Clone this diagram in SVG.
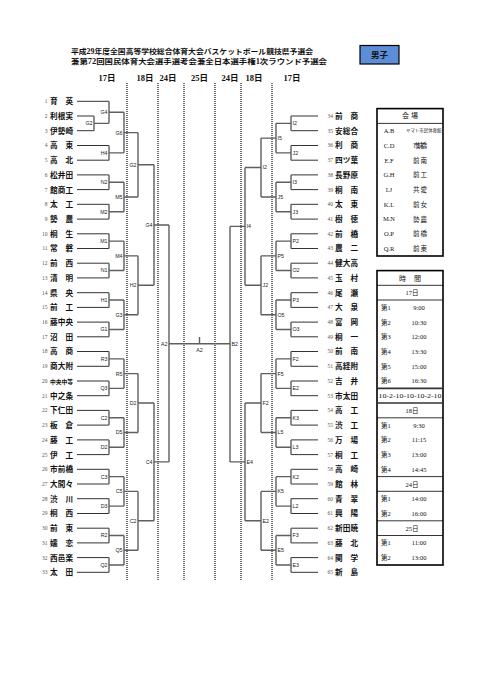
<svg xmlns="http://www.w3.org/2000/svg" width="481" height="680" viewBox="0 0 481 680">
<style>
.nm{font-family:"Noto Sans CJK JP",sans-serif;font-size:7.6px;font-weight:700;fill:#111}
.no{font-family:"Liberation Serif",serif;font-size:5.5px;fill:#555;text-anchor:end}
.lb{font-family:"Liberation Sans",sans-serif;font-size:5.3px;fill:#222}
.le{text-anchor:end}
.tl{stroke:#333;stroke-width:1;fill:none}
.br{stroke:#5e5e5e;stroke-width:1.4;fill:none}
.dot{stroke:#111;stroke-width:1.2;stroke-dasharray:1 1;fill:none}
.hd{font-family:"Liberation Serif","Noto Sans CJK JP",serif;font-size:8.5px;font-weight:700;fill:#111;text-anchor:middle}
.ti{font-family:"Liberation Serif","Noto Sans CJK JP",serif;font-size:7.3px;font-weight:700;fill:#111}
.tb{font-family:"Liberation Serif","Noto Sans CJK JP",serif;font-size:6.5px;fill:#111}
.tc{font-family:"Noto Sans CJK JP",sans-serif;font-size:6.5px;fill:#111}
.mid{text-anchor:middle}
.box{fill:none;stroke:#000;stroke-width:1.6}
.thin{stroke:#000;stroke-width:0.8}
.thick{stroke:#333;stroke-width:1.6}
</style>

<g id="title">
<text class="ti" x="71" y="53.5" textLength="242" lengthAdjust="spacingAndGlyphs">平成29年度全国高等学校総合体育大会バスケットボール競技県予選会</text>
<text class="ti" x="71" y="63.5" textLength="256" lengthAdjust="spacingAndGlyphs">兼第72回国民体育大会選手選考会兼全日本選手権1次ラウンド予選会</text>
</g>
<g id="category">
<rect x="360" y="45.5" width="39" height="18.5" fill="#5b8ed6" stroke="#000" stroke-width="1.2"/>
<text x="379.5" y="58" font-family="Noto Sans CJK JP, sans-serif" font-size="8.5" font-weight="700" text-anchor="middle" fill="#111">男子</text>
</g>

<g id="day-headers">
<text class="hd" x="107" y="81">17日</text>
<text class="hd" x="145" y="81">18日</text>
<text class="hd" x="168" y="81">24日</text>
<text class="hd" x="199.5" y="81">25日</text>
<text class="hd" x="230" y="81">24日</text>
<text class="hd" x="254" y="81">18日</text>
<text class="hd" x="292" y="81">17日</text>
</g>

<g id="day-dividers">
<line class="dot" x1="127" y1="83" x2="127" y2="580"/>
<line class="dot" x1="158" y1="83" x2="158" y2="580"/>
<line class="dot" x1="184" y1="83" x2="184" y2="580"/>
<line class="dot" x1="215" y1="83" x2="215" y2="580"/>
<line class="dot" x1="241" y1="83" x2="241" y2="580"/>
<line class="dot" x1="272" y1="83" x2="272" y2="580"/>
</g>

<g id="connectors">
<path class="tl" d="M77,101.3H109 M77,116H94 M77,130.7H94 M77,145.5H109 M77,160.2H109 M77,174.9H109 M77,189.6H109 M77,204.3H109 M77,219.1H109 M77,233.8H109 M77,248.5H109 M77,263.2H109 M77,277.9H109 M77,292.7H109 M77,307.4H109 M77,322.1H109 M77,336.8H109 M77,351.5H109 M77,366.3H109 M77,381H109 M77,395.7H109 M77,410.4H109 M77,425.1H109 M77,439.9H109 M77,454.6H109 M77,469.3H109 M77,484H109 M77,498.7H109 M77,513.5H109 M77,528.2H109 M77,542.9H109 M77,557.6H109 M77,572.3H109"/>
<path class="tl" d="M318,116H291 M318,130.7H291 M318,145.5H291 M318,160.2H291 M318,174.9H291 M318,189.6H291 M318,204.3H291 M318,219.1H291 M318,233.8H291 M318,248.5H291 M318,263.2H291 M318,277.9H291 M318,292.7H291 M318,307.4H291 M318,322.1H291 M318,336.8H291 M318,351.5H291 M318,366.3H291 M318,381H291 M318,395.7H291 M318,410.4H291 M318,425.1H291 M318,439.9H291 M318,454.6H291 M318,469.3H291 M318,484H291 M318,498.7H291 M318,513.5H291 M318,528.2H291 M318,542.9H291 M318,557.6H291 M318,572.3H291"/>
<path class="br" d="M94,116V130.7 M94,123.35H109
M109,101.3V123.35 M109,112.3H124
M109,145.5V160.2 M109,152.85H124
M124,112.3V152.85 M124,132.6H138
M109,174.9V189.6 M109,182.25H124
M109,204.3V219.1 M109,211.7H124
M124,182.25V211.7 M124,197H138
M138,132.6V197 M138,164.8H154
M109,233.8V248.5 M109,241.15H124
M109,263.2V277.9 M109,270.55H124
M124,241.15V270.55 M124,255.85H138
M109,292.7V307.4 M109,300.05H124
M109,322.1V336.8 M109,329.45H124
M124,300.05V329.45 M124,314.75H138
M138,255.85V314.75 M138,285.3H154
M154,164.8V285.3 M154,225.05H169
M109,351.5V366.3 M109,358.9H124
M109,381V395.7 M109,388.35H124
M124,358.9V388.35 M124,373.6H138
M109,410.4V425.1 M109,417.75H124
M109,439.9V454.6 M109,447.25H124
M124,417.75V447.25 M124,432.5H138
M138,373.6V432.5 M138,403.05H154
M109,469.3V484 M109,476.65H124
M109,498.7V513.5 M109,506.1H124
M124,476.65V506.1 M124,491.4H138
M109,528.2V542.9 M109,535.55H124
M109,557.6V572.3 M109,564.95H124
M124,535.55V564.95 M124,550.25H138
M138,491.4V550.25 M138,520.8H154
M154,403.05V520.8 M154,461.9H169
M169,225.05V461.9 M169,343.8H230"/>
<path class="br" d="M291,116V130.7 M291,123.35H276
M291,145.5V160.2 M291,152.85H276
M276,123.35V152.85 M276,138.1H261
M291,174.9V189.6 M291,182.25H276
M291,204.3V219.1 M291,211.7H276
M276,182.25V211.7 M276,197H261
M261,138.1V197 M261,167.55H245
M291,233.8V248.5 M291,241.15H276
M291,263.2V277.9 M291,270.55H276
M276,241.15V270.55 M276,255.85H261
M291,292.7V307.4 M291,300.05H276
M291,322.1V336.8 M291,329.45H276
M276,300.05V329.45 M276,314.75H261
M261,255.85V314.75 M261,285.3H245
M245,167.55V285.3 M245,226.4H230
M291,351.5V366.3 M291,358.9H276
M291,381V395.7 M291,388.35H276
M276,358.9V388.35 M276,373.6H261
M291,410.4V425.1 M291,417.75H276
M291,439.9V454.6 M291,447.25H276
M276,417.75V447.25 M276,432.5H261
M261,373.6V432.5 M261,403.05H245
M291,469.3V484 M291,476.65H276
M291,498.7V513.5 M291,506.1H276
M276,476.65V506.1 M276,491.4H261
M291,528.2V542.9 M291,535.55H276
M291,557.6V572.3 M291,564.95H276
M276,535.55V564.95 M276,550.25H261
M261,491.4V550.25 M261,520.8H245
M245,403.05V520.8 M245,461.9H230
M230,226.4V461.9
M199.5,337V343.8"/>
</g>

<g id="teams-left">
<g id="t1"><text class="no" x="47.5" y="103.2">1</text><text class="nm" x="50" y="104.2" textLength="23" lengthAdjust="spacing">育英</text></g>
<g id="t2"><text class="no" x="47.5" y="117.9">2</text><text class="nm" x="50" y="118.9" textLength="23" lengthAdjust="spacing">利根実</text></g>
<g id="t3"><text class="no" x="47.5" y="132.6">3</text><text class="nm" x="50" y="133.6" textLength="23" lengthAdjust="spacing">伊勢崎</text></g>
<g id="t4"><text class="no" x="47.5" y="147.4">4</text><text class="nm" x="50" y="148.4" textLength="23" lengthAdjust="spacing">高東</text></g>
<g id="t5"><text class="no" x="47.5" y="162.1">5</text><text class="nm" x="50" y="163.1" textLength="23" lengthAdjust="spacing">高北</text></g>
<g id="t6"><text class="no" x="47.5" y="176.8">6</text><text class="nm" x="50" y="177.8" textLength="23" lengthAdjust="spacing">松井田</text></g>
<g id="t7"><text class="no" x="47.5" y="191.5">7</text><text class="nm" x="50" y="192.5" textLength="23" lengthAdjust="spacing">館商工</text></g>
<g id="t8"><text class="no" x="47.5" y="206.2">8</text><text class="nm" x="50" y="207.2" textLength="23" lengthAdjust="spacing">太工</text></g>
<g id="t9"><text class="no" x="47.5" y="221">9</text><text class="nm" x="50" y="222" textLength="23" lengthAdjust="spacing">勢農</text></g>
<g id="t10"><text class="no" x="47.5" y="235.7">10</text><text class="nm" x="50" y="236.7" textLength="23" lengthAdjust="spacing">桐生</text></g>
<g id="t11"><text class="no" x="47.5" y="250.4">11</text><text class="nm" x="50" y="251.4" textLength="23" lengthAdjust="spacing">常磐</text></g>
<g id="t12"><text class="no" x="47.5" y="265.1">12</text><text class="nm" x="50" y="266.1" textLength="23" lengthAdjust="spacing">前西</text></g>
<g id="t13"><text class="no" x="47.5" y="279.8">13</text><text class="nm" x="50" y="280.8" textLength="23" lengthAdjust="spacing">清明</text></g>
<g id="t14"><text class="no" x="47.5" y="294.6">14</text><text class="nm" x="50" y="295.6" textLength="23" lengthAdjust="spacing">県央</text></g>
<g id="t15"><text class="no" x="47.5" y="309.3">15</text><text class="nm" x="50" y="310.3" textLength="23" lengthAdjust="spacing">前工</text></g>
<g id="t16"><text class="no" x="47.5" y="324">16</text><text class="nm" x="50" y="325" textLength="23" lengthAdjust="spacing">藤中央</text></g>
<g id="t17"><text class="no" x="47.5" y="338.7">17</text><text class="nm" x="50" y="339.7" textLength="23" lengthAdjust="spacing">沼田</text></g>
<g id="t18"><text class="no" x="47.5" y="353.4">18</text><text class="nm" x="50" y="354.4" textLength="23" lengthAdjust="spacing">高商</text></g>
<g id="t19"><text class="no" x="47.5" y="368.2">19</text><text class="nm" x="50" y="369.2" textLength="23" lengthAdjust="spacing">商大附</text></g>
<g id="t20"><text class="no" x="47.5" y="382.9">20</text><text class="nm" x="50" y="383.5" style="font-size:6px" textLength="23" lengthAdjust="spacingAndGlyphs">中央中等</text></g>
<g id="t21"><text class="no" x="47.5" y="397.6">21</text><text class="nm" x="50" y="398.6" textLength="23" lengthAdjust="spacing">中之条</text></g>
<g id="t22"><text class="no" x="47.5" y="412.3">22</text><text class="nm" x="50" y="413.3" textLength="23" lengthAdjust="spacing">下仁田</text></g>
<g id="t23"><text class="no" x="47.5" y="427">23</text><text class="nm" x="50" y="428" textLength="23" lengthAdjust="spacing">板倉</text></g>
<g id="t24"><text class="no" x="47.5" y="441.8">24</text><text class="nm" x="50" y="442.8" textLength="23" lengthAdjust="spacing">藤工</text></g>
<g id="t25"><text class="no" x="47.5" y="456.5">25</text><text class="nm" x="50" y="457.5" textLength="23" lengthAdjust="spacing">伊工</text></g>
<g id="t26"><text class="no" x="47.5" y="471.2">26</text><text class="nm" x="50" y="472.2" textLength="23" lengthAdjust="spacing">市前橋</text></g>
<g id="t27"><text class="no" x="47.5" y="485.9">27</text><text class="nm" x="50" y="486.9" textLength="23" lengthAdjust="spacing">大間々</text></g>
<g id="t28"><text class="no" x="47.5" y="500.6">28</text><text class="nm" x="50" y="501.6" textLength="23" lengthAdjust="spacing">渋川</text></g>
<g id="t29"><text class="no" x="47.5" y="515.4">29</text><text class="nm" x="50" y="516.4" textLength="23" lengthAdjust="spacing">桐西</text></g>
<g id="t30"><text class="no" x="47.5" y="530.1">30</text><text class="nm" x="50" y="531.1" textLength="23" lengthAdjust="spacing">前東</text></g>
<g id="t31"><text class="no" x="47.5" y="544.8">31</text><text class="nm" x="50" y="545.8" textLength="23" lengthAdjust="spacing">嬬恋</text></g>
<g id="t32"><text class="no" x="47.5" y="559.5">32</text><text class="nm" x="50" y="560.5" textLength="23" lengthAdjust="spacing">西邑楽</text></g>
<g id="t33"><text class="no" x="47.5" y="574.2">33</text><text class="nm" x="50" y="575.2" textLength="23" lengthAdjust="spacing">太田</text></g>
</g>

<g id="teams-right">
<g id="t34"><text class="no" x="333" y="117.9">34</text><text class="nm" x="335" y="118.9" textLength="23" lengthAdjust="spacing">前商</text></g>
<g id="t35"><text class="no" x="333" y="132.6">35</text><text class="nm" x="335" y="133.6" textLength="23" lengthAdjust="spacing">安総合</text></g>
<g id="t36"><text class="no" x="333" y="147.4">36</text><text class="nm" x="335" y="148.4" textLength="23" lengthAdjust="spacing">利商</text></g>
<g id="t37"><text class="no" x="333" y="162.1">37</text><text class="nm" x="335" y="163.1" textLength="23" lengthAdjust="spacing">四ツ葉</text></g>
<g id="t38"><text class="no" x="333" y="176.8">38</text><text class="nm" x="335" y="177.8" textLength="23" lengthAdjust="spacing">長野原</text></g>
<g id="t39"><text class="no" x="333" y="191.5">39</text><text class="nm" x="335" y="192.5" textLength="23" lengthAdjust="spacing">桐南</text></g>
<g id="t40"><text class="no" x="333" y="206.2">40</text><text class="nm" x="335" y="207.2" textLength="23" lengthAdjust="spacing">太東</text></g>
<g id="t41"><text class="no" x="333" y="221">41</text><text class="nm" x="335" y="222" textLength="23" lengthAdjust="spacing">樹徳</text></g>
<g id="t42"><text class="no" x="333" y="235.7">42</text><text class="nm" x="335" y="236.7" textLength="23" lengthAdjust="spacing">前橋</text></g>
<g id="t43"><text class="no" x="333" y="250.4">43</text><text class="nm" x="335" y="251.4" textLength="23" lengthAdjust="spacing">農二</text></g>
<g id="t44"><text class="no" x="333" y="265.1">44</text><text class="nm" x="335" y="266.1" textLength="23" lengthAdjust="spacing">健大高</text></g>
<g id="t45"><text class="no" x="333" y="279.8">45</text><text class="nm" x="335" y="280.8" textLength="23" lengthAdjust="spacing">玉村</text></g>
<g id="t46"><text class="no" x="333" y="294.6">46</text><text class="nm" x="335" y="295.6" textLength="23" lengthAdjust="spacing">尾瀬</text></g>
<g id="t47"><text class="no" x="333" y="309.3">47</text><text class="nm" x="335" y="310.3" textLength="23" lengthAdjust="spacing">大泉</text></g>
<g id="t48"><text class="no" x="333" y="324">48</text><text class="nm" x="335" y="325" textLength="23" lengthAdjust="spacing">富岡</text></g>
<g id="t49"><text class="no" x="333" y="338.7">49</text><text class="nm" x="335" y="339.7" textLength="23" lengthAdjust="spacing">桐一</text></g>
<g id="t50"><text class="no" x="333" y="353.4">50</text><text class="nm" x="335" y="354.4" textLength="23" lengthAdjust="spacing">前南</text></g>
<g id="t51"><text class="no" x="333" y="368.2">51</text><text class="nm" x="335" y="369.2" textLength="23" lengthAdjust="spacing">高経附</text></g>
<g id="t52"><text class="no" x="333" y="382.9">52</text><text class="nm" x="335" y="383.9" textLength="23" lengthAdjust="spacing">吉井</text></g>
<g id="t53"><text class="no" x="333" y="397.6">53</text><text class="nm" x="335" y="398.6" textLength="23" lengthAdjust="spacing">市太田</text></g>
<g id="t54"><text class="no" x="333" y="412.3">54</text><text class="nm" x="335" y="413.3" textLength="23" lengthAdjust="spacing">高工</text></g>
<g id="t55"><text class="no" x="333" y="427">55</text><text class="nm" x="335" y="428" textLength="23" lengthAdjust="spacing">渋工</text></g>
<g id="t56"><text class="no" x="333" y="441.8">56</text><text class="nm" x="335" y="442.8" textLength="23" lengthAdjust="spacing">万場</text></g>
<g id="t57"><text class="no" x="333" y="456.5">57</text><text class="nm" x="335" y="457.5" textLength="23" lengthAdjust="spacing">桐工</text></g>
<g id="t58"><text class="no" x="333" y="471.2">58</text><text class="nm" x="335" y="472.2" textLength="23" lengthAdjust="spacing">高崎</text></g>
<g id="t59"><text class="no" x="333" y="485.9">59</text><text class="nm" x="335" y="486.9" textLength="23" lengthAdjust="spacing">館林</text></g>
<g id="t60"><text class="no" x="333" y="500.6">60</text><text class="nm" x="335" y="501.6" textLength="23" lengthAdjust="spacing">青翠</text></g>
<g id="t61"><text class="no" x="333" y="515.4">61</text><text class="nm" x="335" y="516.4" textLength="23" lengthAdjust="spacing">興陽</text></g>
<g id="t62"><text class="no" x="333" y="530.1">62</text><text class="nm" x="335" y="531.1" textLength="23" lengthAdjust="spacing">新田暁</text></g>
<g id="t63"><text class="no" x="333" y="544.8">63</text><text class="nm" x="335" y="545.8" textLength="23" lengthAdjust="spacing">藤北</text></g>
<g id="t64"><text class="no" x="333" y="559.5">64</text><text class="nm" x="335" y="560.5" textLength="23" lengthAdjust="spacing">関学</text></g>
<g id="t65"><text class="no" x="333" y="574.2">65</text><text class="nm" x="335" y="575.2" textLength="23" lengthAdjust="spacing">新島</text></g>
</g>

<g id="match-labels-left" class="lb le">
<text x="92.5" y="125.2">G2</text>
<text x="107.5" y="114.2">G4</text>
<text x="107.5" y="154.7">H4</text>
<text x="122.5" y="134.5">G6</text>
<text x="107.5" y="184.1">N2</text>
<text x="107.5" y="213.6">M2</text>
<text x="122.5" y="198.9">M5</text>
<text x="136.5" y="166.7">G2</text>
<text x="107.5" y="243">M1</text>
<text x="107.5" y="272.4">N1</text>
<text x="122.5" y="257.7">M4</text>
<text x="107.5" y="301.9">H1</text>
<text x="107.5" y="331.3">G1</text>
<text x="122.5" y="316.6">G3</text>
<text x="136.5" y="287.2">H2</text>
<text x="152.5" y="226.9">G4</text>
<text x="107.5" y="360.8">R3</text>
<text x="107.5" y="390.2">Q3</text>
<text x="122.5" y="375.5">R5</text>
<text x="107.5" y="419.6">C2</text>
<text x="107.5" y="449.1">D2</text>
<text x="122.5" y="434.4">D5</text>
<text x="136.5" y="404.9">D2</text>
<text x="107.5" y="478.5">C3</text>
<text x="107.5" y="508">D3</text>
<text x="122.5" y="493.3">C5</text>
<text x="107.5" y="537.4">R2</text>
<text x="107.5" y="566.8">Q2</text>
<text x="122.5" y="552.1">Q5</text>
<text x="136.5" y="522.7">C2</text>
<text x="152.5" y="463.8">C4</text>
<text x="167.5" y="345.7">A2</text>
</g>

<g id="match-labels-right" class="lb">
<text x="292.5" y="125.2">I2</text>
<text x="292.5" y="154.7">J2</text>
<text x="277.5" y="140">I5</text>
<text x="292.5" y="184.1">I3</text>
<text x="292.5" y="213.6">J3</text>
<text x="277.5" y="198.9">J5</text>
<text x="262.5" y="169.4">I2</text>
<text x="292.5" y="243">P2</text>
<text x="292.5" y="272.4">O2</text>
<text x="277.5" y="257.7">P5</text>
<text x="292.5" y="301.9">P3</text>
<text x="292.5" y="331.3">O3</text>
<text x="277.5" y="316.6">O5</text>
<text x="262.5" y="287.2">J2</text>
<text x="246.5" y="228.3">I4</text>
<text x="292.5" y="360.8">F2</text>
<text x="292.5" y="390.2">E2</text>
<text x="277.5" y="375.5">F5</text>
<text x="292.5" y="419.6">K3</text>
<text x="292.5" y="449.1">L3</text>
<text x="277.5" y="434.4">L5</text>
<text x="262.5" y="404.9">F2</text>
<text x="292.5" y="478.5">K2</text>
<text x="292.5" y="508">L2</text>
<text x="277.5" y="493.3">K5</text>
<text x="292.5" y="537.4">F3</text>
<text x="292.5" y="566.8">E3</text>
<text x="277.5" y="552.1">E5</text>
<text x="262.5" y="522.7">E2</text>
<text x="246.5" y="463.8">E4</text>
<text x="231.5" y="345.7">B2</text>
</g>
<g id="final"><text class="lb mid" x="199.5" y="351.5">A2</text></g>

<g id="venue-table">
<rect class="box" x="377" y="108.6" width="66" height="147.4"/>
<line class="thin" x1="377" y1="123.4" x2="443" y2="123.4"/>
<text class="tc mid" x="410" y="118.4" style="font-size:7px" textLength="16" lengthAdjust="spacing">会場</text>
<g class="tb mid">
<text x="389" y="133">A.B</text>
<text x="389" y="147.8">C.D</text>
<text x="389" y="162.5">E.F</text>
<text x="389" y="177.2">G.H</text>
<text x="389" y="191.9">I.J</text>
<text x="389" y="206.6">K.L</text>
<text x="389" y="221.4">M.N</text>
<text x="389" y="236.1">O.P</text>
<text x="389" y="250.8">Q.R</text>
</g>
<g class="tc">
<text x="406" y="132.3" style="font-size:4.3px" textLength="35.5" lengthAdjust="spacingAndGlyphs">ヤマト市民体育館</text>
<text x="413" y="148" textLength="14" lengthAdjust="spacing">市前橋</text>
<text x="413" y="162.7" textLength="14" lengthAdjust="spacing">前南</text>
<text x="413" y="177.4" textLength="14" lengthAdjust="spacing">前工</text>
<text x="413" y="192.1" textLength="14" lengthAdjust="spacing">共愛</text>
<text x="413" y="206.8" textLength="14" lengthAdjust="spacing">前女</text>
<text x="413" y="221.6" textLength="14" lengthAdjust="spacing">勢農</text>
<text x="413" y="236.3" textLength="14" lengthAdjust="spacing">前橋</text>
<text x="413" y="251" textLength="14" lengthAdjust="spacing">前東</text>
</g>
</g>

<g id="time-table">
<rect class="box" x="377" y="270.6" width="66" height="294.4"/>
<line class="thin" x1="377" y1="285.3" x2="443" y2="285.3"/>
<line class="thin" x1="377" y1="300" x2="443" y2="300"/>
<line class="thick" x1="377" y1="388.4" x2="443" y2="388.4"/>
<line class="thick" x1="377" y1="403" x2="443" y2="403"/>
<line class="thin" x1="377" y1="417.8" x2="443" y2="417.8"/>
<line class="thin" x1="377" y1="476.6" x2="443" y2="476.6"/>
<line class="thin" x1="377" y1="491.3" x2="443" y2="491.3"/>
<line class="thin" x1="377" y1="520.8" x2="443" y2="520.8"/>
<line class="thin" x1="377" y1="535.5" x2="443" y2="535.5"/>
<text class="tc mid" x="410" y="280.6" style="font-size:7px" textLength="22" lengthAdjust="spacing">時間</text>
<g class="tb mid">
<text x="412" y="295.2">17日</text>
<text x="412" y="412.9">18日</text>
<text x="412" y="486.5">24日</text>
<text x="412" y="530.7">25日</text>
<text x="410" y="398.2" textLength="63" lengthAdjust="spacingAndGlyphs">10-2-10-10-10-2-10</text>
<text x="419" y="309.8">9:00</text>
<text x="419" y="324.5">10:30</text>
<text x="419" y="339.2">12:00</text>
<text x="419" y="353.9">13:30</text>
<text x="419" y="368.7">15:00</text>
<text x="419" y="383.4">16:30</text>
<text x="419" y="427.5">9:30</text>
<text x="419" y="442.3">11:15</text>
<text x="419" y="457">13:00</text>
<text x="419" y="471.7">14:45</text>
<text x="419" y="501.1">14:00</text>
<text x="419" y="515.9">16:00</text>
<text x="419" y="545.3">11:00</text>
<text x="419" y="560">13:00</text>
</g>
<g class="tb">
<text x="381" y="309.8">第1</text>
<text x="381" y="324.5">第2</text>
<text x="381" y="339.2">第3</text>
<text x="381" y="353.9">第4</text>
<text x="381" y="368.7">第5</text>
<text x="381" y="383.4">第6</text>
<text x="381" y="427.5">第1</text>
<text x="381" y="442.3">第2</text>
<text x="381" y="457">第3</text>
<text x="381" y="471.7">第4</text>
<text x="381" y="501.1">第1</text>
<text x="381" y="515.9">第2</text>
<text x="381" y="545.3">第1</text>
<text x="381" y="560">第2</text>
</g>
</g>
</svg>
